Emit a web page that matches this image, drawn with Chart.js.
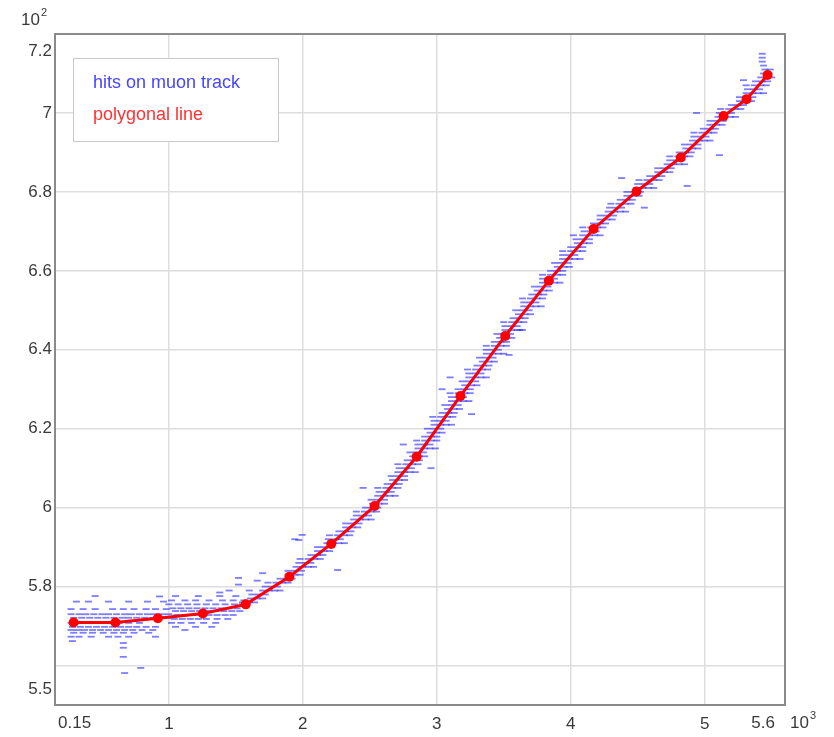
<!DOCTYPE html>
<html>
<head>
<meta charset="utf-8">
<script src="https://cdn.jsdelivr.net/npm/chart.js@4.4.1/dist/chart.umd.min.js"></script>
<style>
  html, body { margin: 0; padding: 0; background: #fff; }
  #wrap { width: 834px; height: 737px; }
</style>
</head>
<body>
<div id="wrap"><canvas id="c" width="834" height="737"></canvas></div>
<script>
// Polygonal line fitted to the track (x in units of 10^3, y in units of 10^2)
const polyX = [0.289, 0.601, 0.918, 1.254, 1.574, 1.900, 2.212, 2.536, 2.850, 3.177,
               3.511, 3.837, 4.171, 4.491, 4.822, 5.141, 5.313, 5.470];
const polyY = [5.709, 5.709, 5.720, 5.732, 5.755, 5.825, 5.908, 6.004, 6.129, 6.283,
               6.435, 6.575, 6.706, 6.801, 6.887, 6.992, 7.035, 7.096];

// Hits on the muon track, grouped by row: [y, [x positions of the hits in that row]]
const hitRows = [
  [5.762, [0.31, 0.40, 0.55, 0.70, 0.84, 0.96]],
  [5.743, [0.27, 0.36, 0.45, 0.58, 0.66, 0.74, 0.83, 0.90, 0.98]],
  [5.730, [0.27, 0.33, 0.38, 0.44, 0.50, 0.55, 0.61, 0.67, 0.72, 0.78, 0.84, 0.89, 0.95, 1.00]],
  [5.721, [0.29, 0.35, 0.41, 0.47, 0.53, 0.59, 0.65, 0.70, 0.76, 0.82, 0.88, 0.94, 0.99]],
  [5.708, [0.27, 0.33, 0.40, 0.48, 0.55, 0.63, 0.70, 0.78]],
  [5.698, [0.28, 0.34, 0.40, 0.46, 0.52, 0.58, 0.64, 0.70, 0.76, 0.83, 0.90]],
  [5.690, [0.27, 0.32, 0.37, 0.43, 0.49, 0.55, 0.61, 0.67, 0.73, 0.80, 0.88]],
  [5.683, [0.29, 0.36, 0.43, 0.51, 0.59, 0.66, 0.74, 0.85]],
  [5.673, [0.27, 0.33, 0.42, 0.55, 0.62, 0.70, 0.90]],
  [5.776, [1.05, 1.22, 1.38, 1.50]],
  [5.765, [1.02, 1.12, 1.20, 1.30, 1.40, 1.48, 1.56]],
  [5.755, [1.00, 1.07, 1.14, 1.21, 1.28, 1.35, 1.42, 1.49, 1.55]],
  [5.745, [1.03, 1.09, 1.15, 1.21, 1.27, 1.33, 1.39, 1.45, 1.51]],
  [5.738, [1.05, 1.11, 1.17, 1.23, 1.29, 1.35, 1.41, 1.47, 1.53]],
  [5.728, [1.06, 1.12, 1.18, 1.24, 1.30, 1.36, 1.42, 1.48]],
  [5.718, [1.04, 1.10, 1.16, 1.22, 1.28, 1.36, 1.44]],
  [5.708, [1.02, 1.09, 1.17, 1.26, 1.35]],
  [5.698, [1.05, 1.20, 1.32]],
  [5.690, [1.12]],
  [5.76, [1.55, 1.60, 1.64]],
  [5.77, [1.61, 1.66, 1.70]],
  [5.78, [1.62, 1.67, 1.72]],
  [5.79, [1.70, 1.75, 1.79, 1.83]],
  [5.80, [1.72, 1.77, 1.81]],
  [5.81, [1.74, 1.80, 1.85, 1.89]],
  [5.82, [1.83, 1.88, 1.92]],
  [5.83, [1.89, 1.94, 1.98]],
  [5.84, [1.89, 1.94, 1.99]],
  [5.85, [1.95, 2.00, 2.04, 2.08]],
  [5.86, [1.97, 2.02, 2.06]],
  [5.87, [1.98, 2.04, 2.09, 2.13]],
  [5.88, [2.06, 2.11, 2.15]],
  [5.89, [2.11, 2.16, 2.20]],
  [5.90, [2.11, 2.16, 2.21]],
  [5.91, [2.18, 2.23, 2.27, 2.31]],
  [5.92, [2.19, 2.24, 2.28]],
  [5.93, [2.20, 2.26, 2.31, 2.35]],
  [5.94, [2.27, 2.32, 2.36]],
  [5.95, [2.32, 2.37, 2.41]],
  [5.96, [2.32, 2.37, 2.42]],
  [5.97, [2.38, 2.43, 2.47, 2.51]],
  [5.98, [2.40, 2.45, 2.49]],
  [5.99, [2.40, 2.46, 2.51, 2.55]],
  [6.00, [2.47, 2.52, 2.56]],
  [6.01, [2.52, 2.57, 2.61]],
  [6.02, [2.51, 2.56, 2.61]],
  [6.03, [2.56, 2.61, 2.65, 2.69]],
  [6.04, [2.57, 2.62, 2.66]],
  [6.05, [2.56, 2.62, 2.67, 2.71]],
  [6.06, [2.63, 2.68, 2.72]],
  [6.07, [2.67, 2.72, 2.76]],
  [6.08, [2.66, 2.71, 2.76]],
  [6.09, [2.71, 2.76, 2.80, 2.84]],
  [6.10, [2.72, 2.77, 2.81]],
  [6.11, [2.71, 2.77, 2.82, 2.86]],
  [6.12, [2.78, 2.83, 2.87]],
  [6.13, [2.82, 2.87, 2.91]],
  [6.14, [2.80, 2.85, 2.90]],
  [6.15, [2.86, 2.91, 2.95, 2.99]],
  [6.16, [2.86, 2.91, 2.95]],
  [6.17, [2.85, 2.91, 2.96, 3.00]],
  [6.18, [2.91, 2.96, 3.00]],
  [6.19, [2.95, 3.00, 3.04]],
  [6.20, [2.93, 2.98, 3.03]],
  [6.21, [2.98, 3.03, 3.07, 3.11]],
  [6.22, [2.98, 3.03, 3.07]],
  [6.23, [2.97, 3.03, 3.08, 3.12]],
  [6.24, [3.04, 3.09, 3.13]],
  [6.25, [3.08, 3.13, 3.17]],
  [6.26, [3.06, 3.11, 3.16]],
  [6.27, [3.11, 3.16, 3.20, 3.24]],
  [6.28, [3.11, 3.16, 3.20]],
  [6.29, [3.10, 3.16, 3.21, 3.25]],
  [6.30, [3.16, 3.21, 3.25]],
  [6.31, [3.21, 3.26, 3.30]],
  [6.32, [3.19, 3.24, 3.29]],
  [6.33, [3.24, 3.29, 3.33, 3.37]],
  [6.34, [3.24, 3.29, 3.33]],
  [6.35, [3.23, 3.29, 3.34, 3.38]],
  [6.36, [3.30, 3.35, 3.39]],
  [6.37, [3.34, 3.39, 3.43]],
  [6.38, [3.32, 3.37, 3.42]],
  [6.39, [3.37, 3.42, 3.46, 3.50]],
  [6.40, [3.37, 3.42, 3.46]],
  [6.41, [3.37, 3.43, 3.48, 3.52]],
  [6.42, [3.43, 3.48, 3.52]],
  [6.43, [3.47, 3.52, 3.56]],
  [6.44, [3.45, 3.50, 3.55]],
  [6.45, [3.51, 3.56, 3.60, 3.64]],
  [6.46, [3.51, 3.56, 3.60]],
  [6.47, [3.50, 3.56, 3.61, 3.65]],
  [6.48, [3.57, 3.62, 3.66]],
  [6.49, [3.61, 3.66, 3.70]],
  [6.50, [3.59, 3.64, 3.69]],
  [6.51, [3.65, 3.70, 3.74, 3.78]],
  [6.52, [3.65, 3.70, 3.74]],
  [6.53, [3.64, 3.70, 3.75, 3.79]],
  [6.54, [3.71, 3.76, 3.80]],
  [6.55, [3.75, 3.80, 3.84]],
  [6.56, [3.73, 3.78, 3.83]],
  [6.57, [3.79, 3.84, 3.88, 3.92]],
  [6.58, [3.79, 3.84, 3.88]],
  [6.59, [3.79, 3.85, 3.90, 3.94]],
  [6.60, [3.85, 3.90, 3.94]],
  [6.61, [3.90, 3.95, 3.99]],
  [6.62, [3.88, 3.93, 3.98]],
  [6.63, [3.94, 3.99, 4.03, 4.07]],
  [6.64, [3.94, 3.99, 4.03]],
  [6.65, [3.94, 4.00, 4.05, 4.09]],
  [6.66, [4.00, 4.05, 4.09]],
  [6.67, [4.05, 4.10, 4.14]],
  [6.68, [4.04, 4.09, 4.14]],
  [6.69, [4.09, 4.14, 4.18, 4.22]],
  [6.70, [4.10, 4.15, 4.19]],
  [6.71, [4.09, 4.15, 4.20, 4.24]],
  [6.72, [4.17, 4.22, 4.26]],
  [6.73, [4.22, 4.27, 4.31]],
  [6.74, [4.22, 4.27, 4.32]],
  [6.75, [4.28, 4.33, 4.37, 4.41]],
  [6.76, [4.29, 4.34, 4.38]],
  [6.77, [4.30, 4.36, 4.41, 4.45]],
  [6.78, [4.37, 4.42, 4.46]],
  [6.79, [4.42, 4.47, 4.51]],
  [6.80, [4.42, 4.47, 4.52]],
  [6.81, [4.49, 4.54, 4.58, 4.62]],
  [6.82, [4.50, 4.55, 4.59]],
  [6.83, [4.51, 4.57, 4.62, 4.66]],
  [6.84, [4.59, 4.64, 4.68]],
  [6.85, [4.65, 4.70, 4.74]],
  [6.86, [4.65, 4.70, 4.75]],
  [6.87, [4.72, 4.77, 4.81, 4.85]],
  [6.88, [4.74, 4.79, 4.83]],
  [6.89, [4.74, 4.80, 4.85, 4.89]],
  [6.90, [4.81, 4.86, 4.90]],
  [6.91, [4.86, 4.91, 4.95]],
  [6.92, [4.85, 4.90, 4.95]],
  [6.93, [4.91, 4.96, 5.00, 5.04]],
  [6.94, [4.92, 4.97, 5.01]],
  [6.95, [4.92, 4.98, 5.03, 5.07]],
  [6.96, [4.99, 5.04, 5.08]],
  [6.97, [5.04, 5.09, 5.13]],
  [6.98, [5.04, 5.09, 5.14]],
  [6.99, [5.10, 5.15, 5.19, 5.23]],
  [7.00, [5.11, 5.16, 5.20]],
  [7.01, [5.12, 5.18, 5.23, 5.27]],
  [7.02, [5.20, 5.25, 5.29]],
  [7.03, [5.26, 5.31, 5.35]],
  [7.04, [5.26, 5.31, 5.36]],
  [7.05, [5.31, 5.36, 5.40, 5.44]],
  [7.06, [5.32, 5.37, 5.41]],
  [7.07, [5.31, 5.37, 5.42, 5.46]],
  [7.08, [5.38, 5.43, 5.47]],
  [7.09, [5.42, 5.47, 5.50]],
  [7.10, [5.44, 5.48]],
  [7.11, [5.45, 5.49]],
  [7.12, [5.44]],
  [7.13, [5.43]],
  [7.14, [5.43]]
];

// Isolated hits away from the main band: [x, y]
const hitStray = [
  [0.66, 5.657], [0.66, 5.645], [0.66, 5.622], [0.67, 5.581], [0.79, 5.594], [0.28, 5.662],
  [0.93, 5.775], [0.45, 5.776], [1.45, 5.790], [1.52, 5.805], [1.60, 5.790], [1.38, 5.785],
  [1.66, 5.815], [1.52, 5.822], [1.70, 5.834], [1.97, 5.918], [1.995, 5.931], [1.94, 5.920],
  [2.26, 5.842], [2.957, 6.100], [3.04, 6.300], [3.26, 6.237], [3.54, 6.387], [4.94, 7.000],
  [5.11, 6.893], [4.87, 6.815], [4.38, 6.835], [5.29, 7.083], [5.43, 7.150], [2.45, 6.050],
  [2.75, 6.160], [3.10, 6.330], [3.62, 6.450], [4.02, 6.690], [4.55, 6.760]
];

const seriesNames = ['hits on muon track', 'polygonal line'];
const xTicks = [0.15, 1, 2, 3, 4, 5, 5.6];
const xTickLabels = ['0.15', '1', '2', '3', '4', '5', '5.6'];
const yTicks = [5.5, 5.6, 5.8, 6, 6.2, 6.4, 6.6, 6.8, 7, 7.2];
const yTickLabels = ['5.5', '', '5.8', '6', '6.2', '6.4', '6.6', '6.8', '7', '7.2'];
const xExponent = '3';
const yExponent = '2';

const FONT = 'Liberation Sans, Arial, sans-serif';
const TICK_COLOR = '#3a3a3a';
const HIT_COLOR = 'rgba(45, 45, 255, 0.62)';
const LINE_COLOR = 'rgb(255, 0, 0)';

const hitPoints = [];
hitRows.forEach(([y, xs]) => xs.forEach(x => hitPoints.push({ x, y })));
hitStray.forEach(([x, y]) => hitPoints.push({ x, y }));
const polyPoints = polyX.map((x, i) => ({ x, y: polyY[i] }));

const isEdge = (arr, i) => i === 0 || i === arr.length - 1;

// Frame, edge tick labels, axis exponents and the legend box
const decorations = {
  id: 'decorations',
  afterDraw(chart) {
    const { ctx, chartArea: a, scales } = chart;
    const xs = scales.x, ys = scales.y;
    ctx.save();

    ctx.strokeStyle = '#8a8a8a';
    ctx.lineWidth = 2;
    ctx.strokeRect(a.left, a.top, a.right - a.left, a.bottom - a.top);

    ctx.fillStyle = TICK_COLOR;
    ctx.font = '17px ' + FONT;
    ctx.textBaseline = 'middle';
    ctx.textAlign = 'right';
    ctx.fillText(yTickLabels[yTickLabels.length - 1], a.left - 3, ys.getPixelForValue(yTicks[yTicks.length - 1]) + 17);
    ctx.fillText(yTickLabels[0], a.left - 3, ys.getPixelForValue(yTicks[0]) - 16);

    const labelY = a.bottom + 18;
    ctx.textAlign = 'left';
    ctx.fillText(xTickLabels[0], xs.getPixelForValue(xTicks[0]) + 3, labelY);
    ctx.textAlign = 'right';
    const lastX = xs.getPixelForValue(xTicks[xTicks.length - 1]);
    ctx.fillText(xTickLabels[xTickLabels.length - 1], lastX - 10, labelY);

    // power-of-ten multipliers
    const drawPow = (x, y, exp) => {
      ctx.textAlign = 'left';
      ctx.font = '17px ' + FONT;
      ctx.fillText('10', x, y);
      const w = ctx.measureText('10').width;
      ctx.font = '11px ' + FONT;
      ctx.fillText(exp, x + w + 1, y - 7);
    };
    drawPow(21, 20, yExponent);
    drawPow(lastX + 5, labelY, xExponent);

    // legend
    const lx = a.left + 18, ly = a.top + 24, lw = 205, lh = 83;
    ctx.fillStyle = '#fff';
    ctx.fillRect(lx, ly, lw, lh);
    ctx.strokeStyle = '#c8c8c8';
    ctx.lineWidth = 1;
    ctx.strokeRect(lx + 0.5, ly + 0.5, lw, lh);
    ctx.font = '18px ' + FONT;
    ctx.textAlign = 'left';
    ctx.fillStyle = 'rgb(70, 70, 255)';
    ctx.fillText(chart.data.datasets[0].label, lx + 20, ly + 25);
    ctx.fillStyle = 'rgb(255, 50, 50)';
    ctx.fillText(chart.data.datasets[1].label, lx + 20, ly + 57);
    ctx.restore();
  }
};

new Chart(document.getElementById('c'), {
  type: 'scatter',
  data: {
    datasets: [
      {
        label: seriesNames[0],
        data: hitPoints,
        order: 2,
        pointStyle: 'line',
        pointRadius: 3.5,
        pointHoverRadius: 3.5,
        pointBorderWidth: 1.8,
        borderColor: HIT_COLOR,
        backgroundColor: HIT_COLOR,
        showLine: false
      },
      {
        label: seriesNames[1],
        data: polyPoints,
        order: 1,
        showLine: true,
        borderColor: LINE_COLOR,
        borderWidth: 3,
        backgroundColor: LINE_COLOR,
        pointRadius: 5,
        pointHoverRadius: 5,
        pointBorderWidth: 0,
        pointBackgroundColor: LINE_COLOR,
        tension: 0
      }
    ]
  },
  options: {
    responsive: false,
    animation: false,
    events: [],
    layout: { padding: { left: 0, top: 34, right: 49, bottom: 0 } },
    plugins: { legend: { display: false }, tooltip: { enabled: false } },
    scales: {
      x: {
        type: 'linear',
        min: xTicks[0],
        max: xTicks[xTicks.length - 1],
        afterFit(s) { s.height = 32; },
        afterBuildTicks(s) { s.ticks = xTicks.map(v => ({ value: v })); },
        border: { display: false },
        grid: {
          drawTicks: false,
          lineWidth: 1.5,
          color: c => (c.index === 0 || c.index === xTicks.length - 1) ? 'rgba(0,0,0,0)' : '#dedede'
        },
        ticks: {
          autoSkip: false,
          maxRotation: 0,
          padding: 9,
          color: TICK_COLOR,
          font: { family: FONT, size: 17 },
          callback: (v, i) => isEdge(xTicks, i) ? '' : xTickLabels[i]
        }
      },
      y: {
        type: 'linear',
        min: yTicks[0],
        max: yTicks[yTicks.length - 1],
        afterFit(s) { s.width = 55; },
        afterBuildTicks(s) { s.ticks = yTicks.map(v => ({ value: v })); },
        border: { display: false },
        grid: {
          drawTicks: false,
          lineWidth: 1.5,
          color: c => (c.index === 0 || c.index === yTicks.length - 1) ? 'rgba(0,0,0,0)' : '#dedede'
        },
        ticks: {
          autoSkip: false,
          padding: 3,
          color: TICK_COLOR,
          font: { family: FONT, size: 17 },
          callback: (v, i) => isEdge(yTicks, i) ? '' : yTickLabels[i]
        }
      }
    }
  },
  plugins: [decorations]
});
</script>
</body>
</html>
